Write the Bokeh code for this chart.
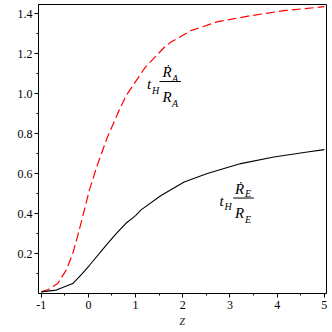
from bokeh.plotting import figure
from bokeh.models import Range1d, FixedTicker, Label
from bokeh.embed import file_html
from bokeh.resources import INLINE

# --- data ---
z_A = [-1.0, -0.85, -0.65, -0.47, -0.33, -0.22, -0.12, 0.02, 0.2, 0.4, 0.62, 0.8,
       1.0, 1.2, 1.4, 1.61, 1.75, 2.17, 2.74, 3.44, 4.14, 5.0]
y_A = [0.008, 0.02, 0.05, 0.117, 0.2, 0.295, 0.385, 0.517, 0.65, 0.78, 0.9, 0.99,
       1.06, 1.13, 1.18, 1.232, 1.258, 1.315, 1.36, 1.39, 1.415, 1.435]

z_E = [-1.0, -0.68, -0.33, -0.13, 0.02, 0.37, 0.59, 0.79, 1.0, 1.11, 1.54, 2.03,
       2.52, 3.23, 3.93, 4.64, 5.0]
y_E = [0.008, 0.017, 0.05, 0.10, 0.14, 0.24, 0.30, 0.35, 0.39, 0.417, 0.49, 0.558,
       0.600, 0.65, 0.683, 0.708, 0.72]

x_ticks = [-1, 0, 1, 2, 3, 4, 5]
x_tick_labels = ["-1", "0", "1", "2", "3", "4", "5"]
x_minor = [-0.5, 0.5, 1.5, 2.5, 3.5, 4.5]
y_ticks = [0.2, 0.4, 0.6, 0.8, 1.0, 1.2, 1.4]
y_tick_labels = ["0.2", "0.4", "0.6", "0.8", "1.0", "1.2", "1.4"]
y_minor = [0.1, 0.3, 0.5, 0.7, 0.9, 1.1, 1.3]
x_title = "z"

FONT = "Liberation Serif"

p = figure(width=332, height=332, output_backend="svg", toolbar_location=None,
           x_range=Range1d(-1.057, 5.046), y_range=Range1d(0, 1.446),
           min_border_left=38, min_border_right=6, min_border_top=4,
           min_border_bottom=39)
p.grid.visible = False
p.outline_line_color = "black"
p.outline_line_width = 1
p.background_fill_color = "white"
p.border_fill_color = "white"

for ax in (p.xaxis[0], p.yaxis[0]):
    ax.axis_line_color = "black"
    ax.major_tick_line_color = "black"
    ax.minor_tick_line_color = "black"
    ax.major_tick_in = 0
    ax.major_tick_out = 4
    ax.minor_tick_in = 0
    ax.minor_tick_out = 2
    ax.major_label_text_font = FONT
    ax.major_label_text_font_size = "12px"
    ax.major_label_text_color = "black"

p.xaxis.ticker = FixedTicker(ticks=x_ticks, minor_ticks=x_minor)
p.xaxis.major_label_overrides = {t: l for t, l in zip(x_ticks, x_tick_labels)}
p.yaxis.ticker = FixedTicker(ticks=y_ticks, minor_ticks=y_minor)
p.yaxis.major_label_overrides = {t: l for t, l in zip(y_ticks, y_tick_labels)}
p.xaxis.major_label_standoff = 3
p.yaxis.major_label_standoff = 2

p.xaxis.axis_label = x_title
p.xaxis.axis_label_text_font = FONT
p.xaxis.axis_label_text_font_style = "italic"
p.xaxis.axis_label_text_font_size = "15px"
p.xaxis.axis_label_standoff = 0

p.line(z_A, y_A, line_color="#ff0000", line_width=1.2, line_dash="9 4")
p.line(z_E, y_E, line_color="black", line_width=1.1)

def lab(x, y, text, size="15px", style="italic", align="left"):
    p.add_layout(Label(x=x, y=y, text=text, text_font=FONT, text_font_style=style,
                       text_font_size=size, text_baseline="alphabetic",
                       text_align=align, text_color="black"))

# label for A
lab(1.242, 1.048, "t")
lab(1.348, 1.018, "H", "10px")
lab(1.571, 1.1106, "Ṙ")
lab(1.772, 1.078, "A", "10px")
lab(1.571, 0.983, "R")
lab(1.772, 0.9505, "A", "10px")
# label for E
lab(2.778, 0.4652, "t")
lab(2.884, 0.4352, "H", "10px")
lab(3.107, 0.5253, "Ṙ")
lab(3.319, 0.5003, "E", "10px")
lab(3.107, 0.4052, "R")
lab(3.319, 0.3702, "E", "10px")

# fraction bars
p.segment(x0=[1.507, 3.069], y0=[1.0605, 0.4777], x1=[1.963, 3.505], y1=[1.0605, 0.4777],
          line_color="black", line_width=1)

open("out.html", "w").write(file_html(p, INLINE))
